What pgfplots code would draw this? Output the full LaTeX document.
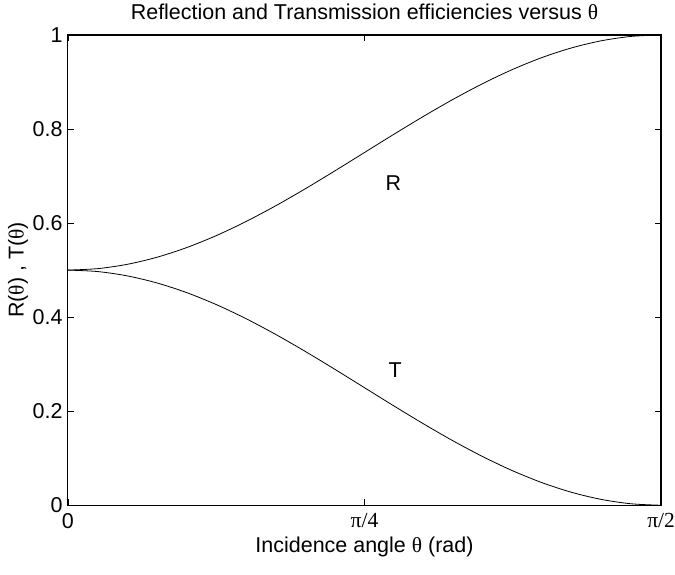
\documentclass[border=0pt]{standalone}
\usepackage{fontspec}
\setmainfont{Liberation Sans}
\newfontfamily\serif{Liberation Serif}
\usepackage{pgfplots}
\pgfplotsset{compat=1.18}
\usetikzlibrary{calc}
\pgfplotstableread{
x R T
0.00000 0.500000 0.500000
0.07854 0.503078 0.496922
0.15708 0.512236 0.487764
0.23562 0.527249 0.472751
0.31416 0.547746 0.452254
0.39270 0.573223 0.426777
0.47124 0.603054 0.396946
0.54978 0.636502 0.363498
0.62832 0.672746 0.327254
0.70686 0.710891 0.289109
0.78540 0.750000 0.250000
0.86394 0.789109 0.210891
0.94248 0.827254 0.172746
1.02102 0.863498 0.136502
1.09956 0.896946 0.103054
1.17810 0.926777 0.073223
1.25664 0.952254 0.047746
1.33518 0.972752 0.027248
1.41372 0.987764 0.012236
1.49226 0.996922 0.003078
1.57080 1.000000 0.000000
}\data
\def\fs{\fontsize{21.5}{25}\selectfont}
\begin{document}
\fs
\begin{tikzpicture}
\begin{axis}[name=ax, scale only axis, width=594pt, height=471pt,
  xmin=0, xmax=1.5708, ymin=0, ymax=1,
  xtick={0,0.785398,1.5708}, xticklabels={0,{\serif π/4},{\serif π/2}},
  ytick={0,0.2,0.4,0.6,0.8,1}, yticklabels={0,0.2,0.4,0.6,0.8,1},
  tick align=inside, major tick length=6pt,
  axis line style={line width=1.2pt},
  every tick/.style={black, line width=0.6pt},
  tick label style={font=\fs},
  /pgf/number format/assume math mode=true,
  xticklabel style={yshift=-1pt},
  yticklabel style={xshift=2pt},
  title={Reflection and Transmission efficiencies versus {\serif θ}},
  title style={at={(axis description cs:0.5,1.037)}, anchor=center, font=\fs},
  xlabel={Incidence angle {\serif θ} (rad)},
  xlabel style={at={(axis description cs:0.5,-0.0892)}, anchor=center, font=\fs},
  ylabel={R({\serif θ}) , T({\serif θ})},
  ylabel style={at={(axis description cs:-0.084,0.5)}, anchor=center, font=\fs},
]
\addplot[black, line width=0.8pt, smooth] table[x=x, y=R] {\data};
\addplot[black, line width=0.8pt, smooth] table[x=x, y=T] {\data};
\node[font=\fs] at (axis cs:0.862,0.686) {R};
\node[font=\fs] at (axis cs:0.867,0.287) {T};
\end{axis}
\pgfresetboundingbox
\path ($(ax.south west)+(-68pt,-69pt)$) rectangle ($(ax.north east)+(14pt,35pt)$);
\end{tikzpicture}
\end{document}
